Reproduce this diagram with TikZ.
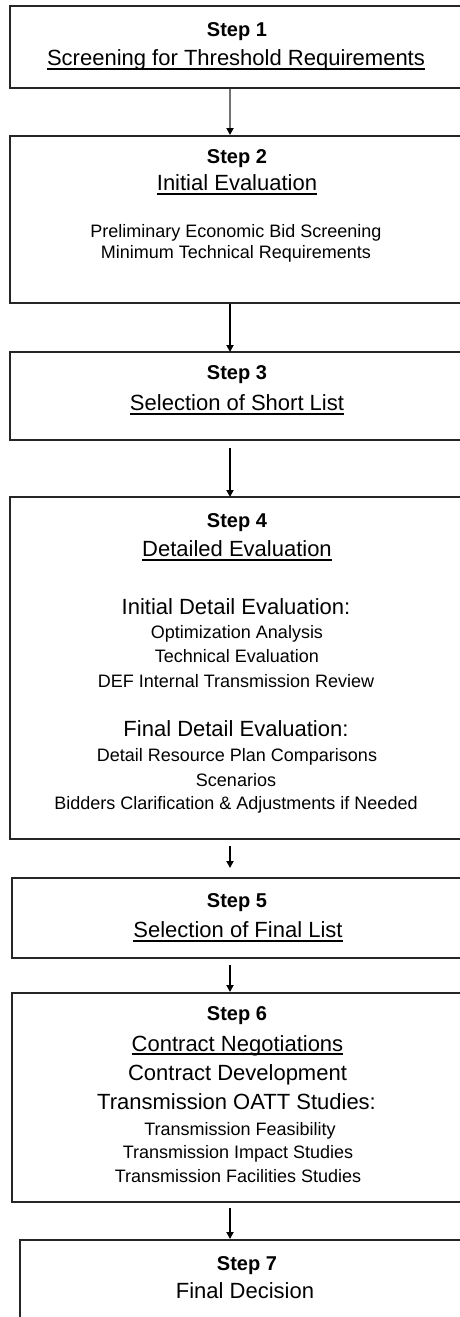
\documentclass[tikz,border=0pt]{standalone}
\usepackage{fontspec}
\setmainfont{Liberation Sans}
\usetikzlibrary{arrows.meta}
\begin{document}
\begin{tikzpicture}[x=1pt,y=-1pt,
 box/.style={draw=black!85,line width=2pt,fill=white,inner sep=0},
 stp/.style={font=\fontsize{20}{24}\selectfont\bfseries,inner sep=0,anchor=base},
 hd/.style={font=\fontsize{22}{26}\selectfont,inner sep=0,anchor=base},
 ln/.style={font=\fontsize{18}{22}\selectfont,inner sep=0,anchor=base},
 ul/.style={line width=1.2pt},
 arr/.style={line width=2.4pt,-{Triangle[width=7pt,length=7pt,color=black]}}]
\useasboundingbox (0,0) rectangle (460,1317);
\clip (0,0) rectangle (460,1317);
\fill[white] (0,0) rectangle (460,1317);
\coordinate (ax) at (230,0);
% boxes
\node[box,minimum width=455,minimum height=82] (b1) at (237.5,47) {};
\node[box,minimum width=455,minimum height=167] (b2) at (237.5,219.5) {};
\node[box,minimum width=455,minimum height=88] (b3) at (237.5,396) {};
\node[box,minimum width=455,minimum height=342] (b4) at (237.5,668) {};
\node[box,minimum width=451,minimum height=80] (b5) at (237.5,918) {};
\node[box,minimum width=451,minimum height=209] (b6) at (237.5,1097.5) {};
\node[box,minimum width=454,minimum height=90] (b7) at (247,1285) {};
% box 1
\node[stp] (s1) at (237,36) {Step 1};
\node[hd] (h1) at (236,65) {Screening for Threshold Requirements};
\draw[ul] ([yshift=-4]h1.base west) -- ([yshift=-4]h1.base east);
% box 2
\node[stp] (s2) at (237,163) {Step 2};
\node[hd] (h2) at (237,190) {Initial Evaluation};
\draw[ul] ([yshift=-4]h2.base west) -- ([yshift=-4]h2.base east);
\node[ln] (l21) at (236,237) {Preliminary Economic Bid Screening};
\node[ln] (l22) at (236,258) {Minimum Technical Requirements};
% box 3
\node[stp] (s3) at (237,379) {Step 3};
\node[hd] (h3) at (237,410) {Selection of Short List};
\draw[ul] ([yshift=-4]h3.base west) -- ([yshift=-4]h3.base east);
% box 4
\node[stp] (s4) at (237,527) {Step 4};
\node[hd] (h4) at (237,556) {Detailed Evaluation};
\draw[ul] ([yshift=-4]h4.base west) -- ([yshift=-4]h4.base east);
\node[hd] (l41) at (236,614) {Initial Detail Evaluation:};
\node[ln] (l42) at (237,638) {Optimization Analysis};
\node[ln] (l43) at (237,662) {Technical Evaluation};
\node[ln] (l44) at (236,687) {DEF Internal Transmission Review};
\node[hd] (l45) at (236,736) {Final Detail Evaluation:};
\node[ln] (l46) at (237,761) {Detail Resource Plan Comparisons};
\node[ln] (l47) at (236,786) {Scenarios};
\node[ln] (l48) at (236,809) {Bidders Clarification \& Adjustments if Needed};
% box 5
\node[stp] (s5) at (237,907) {Step 5};
\node[hd] (h5) at (238,937) {Selection of Final List};
\draw[ul] ([yshift=-4]h5.base west) -- ([yshift=-4]h5.base east);
% box 6
\node[stp] (s6) at (237,1020) {Step 6};
\node[hd] (h6) at (237.5,1051) {Contract Negotiations};
\draw[ul] ([yshift=-3]h6.base west) -- ([yshift=-3]h6.base east);
\node[hd] (l61) at (237.5,1080) {Contract Development};
\node[hd] (l62) at (236.5,1109) {Transmission OATT Studies:};
\node[ln] (l63) at (240,1135) {Transmission Feasibility};
\node[ln] (l64) at (238,1158) {Transmission Impact Studies};
\node[ln] (l65) at (238,1182) {Transmission Facilities Studies};
% box 7
\node[stp] (s7) at (247,1270) {Step 7};
\node[hd] (h7) at (245,1298) {Final Decision};
% arrows
\draw[arr,draw=black!55] (b1.south -| ax) -- (b2.north -| ax);
\draw[arr] (b2.south -| ax) -- ([yshift=-1]b3.north -| ax);
\draw[arr,shorten <=7pt] (b3.south -| ax) -- ([yshift=-1]b4.north -| ax);
\draw[arr,shorten <=6pt,shorten >=9pt] (b4.south -| ax) -- (b5.north -| ax);
\draw[arr,shorten <=6pt] (b5.south -| ax) -- (b6.north -| ax);
\draw[arr,shorten <=5pt] (b6.south -| ax) -- (b7.north -| ax);
\end{tikzpicture}
\end{document}
